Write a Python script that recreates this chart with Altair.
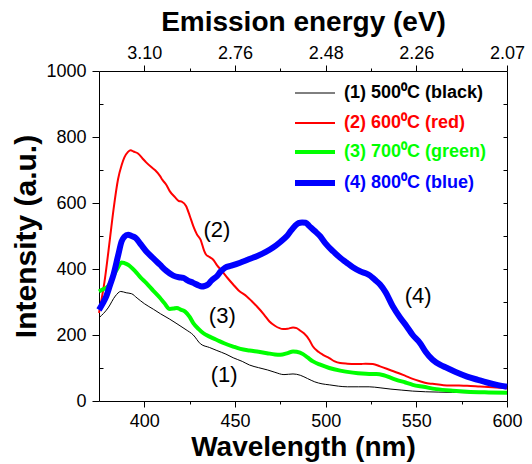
import altair as alt
import pandas as pd

# ---------------- data ----------------
names = ["(1) 500⁰C (black)", "(2) 600⁰C (red)", "(3) 700⁰C (green)", "(4) 800⁰C (blue)"]
colors = ["#000000", "#ff0000", "#00ff00", "#0000ff"]
widths = [1, 2, 4, 6]

wl_black = [375, 380, 384, 387, 390, 393, 396, 400, 405, 409, 414, 418, 423, 427, 431, 436, 440, 445, 449, 454,
            458, 463, 468, 472, 477, 482, 486, 490, 494, 498, 502, 507, 512, 518, 524, 530, 536, 542, 548, 555,
            562, 570, 580, 590, 600]
i_black = [252, 282, 318, 332, 328, 325, 312, 295, 278, 264, 248, 234, 216, 200, 173, 162, 153, 142, 131, 120,
           109, 101, 94, 87, 80, 82, 78, 68, 58, 52, 49, 45, 43, 43, 43, 40, 36, 33, 30, 28,
           27, 26, 25, 24, 24]

wl_red = [375, 378, 381, 383, 385.5, 387.5, 389, 391, 392.5, 394, 396.5, 399, 401, 404, 406, 408.6, 410, 412, 414,
          417, 419, 420.6, 423, 425, 427, 429, 431, 433, 434, 436, 438, 440, 443, 446, 449, 452, 456.5, 459, 462,
          466, 469, 472, 476.5, 479, 482, 484, 486, 488, 491, 493, 496, 498.5, 502, 505, 508, 512, 516, 519, 522,
          526, 530, 535.5, 540, 544, 548, 552, 556, 559, 565, 572, 578, 585, 592, 600]
i_red = [267, 360, 490, 580, 672, 715, 738, 755, 760, 756, 750, 735, 723, 708, 699, 682, 670, 656, 636,
         617, 606, 604, 591, 562, 530, 505, 489, 455, 444, 436, 428, 412, 393, 372, 353, 335, 317, 304, 287,
         262, 241, 228, 218, 219, 223, 221, 213, 205, 185, 165, 149, 140, 130, 120, 115, 113, 112, 112, 113,
         112, 105, 94, 85, 76, 67, 60, 54, 52, 48, 47, 46, 44, 42, 39]

wl_green = [375, 377, 379, 381, 383, 385.5, 387.5, 389, 391, 395, 398, 401, 405, 408.6, 411, 414, 416, 418, 420,
            422.5, 425, 427, 430, 432.4, 436, 440, 444, 449, 453, 458, 463, 467.6, 472, 475, 479, 482, 484, 487.5,
            490, 493, 497, 502, 508, 515, 520, 524, 528, 532, 536, 539, 544, 548, 554, 561, 570, 578, 590, 600]
i_green = [332, 338, 343, 355, 380, 405, 420, 418, 413, 393, 374, 358, 334, 313, 297, 279, 280, 282, 277,
           271, 255, 236, 218, 206, 195, 185, 175, 165, 158, 153, 149, 145, 141, 140, 145, 150, 149, 142,
           132, 120, 110, 100, 92, 86, 83, 82, 82, 78, 70, 64, 56, 49, 43, 36, 31, 28, 26, 25]

wl_blue = [375, 377, 379, 381, 383, 385.5, 387.5, 389, 391, 393, 395, 398, 401, 405, 408.6, 412, 416, 419, 421.5,
           424, 427, 430, 431.6, 433.5, 435, 437, 440, 442, 444.5, 448, 452.8, 457, 462, 467, 471, 475, 478.5,
           481, 483, 485, 487, 489, 491, 494, 497, 500, 504, 508, 511.6, 515, 519, 522, 524.5, 527, 530, 533,
           537, 541, 544.7, 548, 552, 555, 559, 563, 567, 572, 578, 584, 589, 595, 600]
i_blue = [276, 295, 317, 350, 383, 440, 484, 498, 504, 500, 495, 475, 454, 432, 413, 395, 380, 375, 373,
          365, 358, 350, 347, 349, 353, 365, 378, 392, 404, 410, 419, 428, 439, 452, 465, 482, 499,
          517, 530, 539, 541, 540, 530, 515, 499, 477, 454, 434, 419, 405, 393, 387, 380, 368, 353, 330,
          287, 253, 226, 200, 176, 150, 125, 110, 100, 87, 74, 64, 56, 48, 43]

series_wl = [wl_black, wl_red, wl_green, wl_blue]
series_i = [i_black, i_red, i_green, i_blue]

ann_text = ["(1)", "(2)", "(3)", "(4)"]
ann_wl = [444, 440, 443, 551]
ann_i = [79, 518, 258, 318]

x_major = [400, 450, 500, 550, 600]
x_minor = [425, 475, 525, 575]
energy_labels = ["3.10", "2.76", "2.48", "2.26", "2.07"]
y_major = [0, 200, 400, 600, 800, 1000]
y_minor = [100, 300, 500, 700, 900]
y_right = [100, 200, 300, 400, 500, 600, 700, 800, 900]

# ---------------- chart ----------------
W, H = 408, 330
FONT = "Liberation Sans"
xdom = [375, 600]
ydom = [0, 1000]


def xs():
    return alt.Scale(domain=xdom, nice=False, zero=False)


def ys():
    return alt.Scale(domain=ydom, nice=False, zero=False)


frames = []
for n, w, v in zip(names, series_wl, series_i):
    frames.append(pd.DataFrame({"wl": w, "I": v, "series": n}))
df = pd.concat(frames, ignore_index=True)

layers = []
for n, c, sw in zip(names, colors, widths):
    layers.append(
        alt.Chart(df[df.series == n]).mark_line(color=c, strokeWidth=sw, interpolate="monotone").encode(
            x=alt.X("wl:Q", scale=xs(), axis=None),
            y=alt.Y("I:Q", scale=ys(), axis=None),
        )
    )

ann_df = pd.DataFrame({"wl": ann_wl, "I": ann_i, "t": ann_text})
layers.append(
    alt.Chart(ann_df).mark_text(font=FONT, fontSize=22, color="black", align="center", baseline="middle").encode(
        x=alt.X("wl:Q", scale=xs(), axis=None),
        y=alt.Y("I:Q", scale=ys(), axis=None),
        text="t:N",
    )
)

# legend
leg_y = [22, 52, 81, 112]
for n, c, sw, yy in zip(names, colors, widths, leg_y):
    ldf = pd.DataFrame({"t": [n]})
    layers.append(
        alt.Chart(ldf).mark_rule(color=c, strokeWidth=sw).encode(
            x=alt.value(196), x2=alt.value(236), y=alt.value(yy)
        )
    )
    layers.append(
        alt.Chart(ldf).mark_text(font=FONT, fontSize=18, fontWeight="bold", color=c, align="left",
                                 baseline="middle").encode(
            x=alt.value(245), y=alt.value(yy), text="t:N"
        )
    )

# axis layers
expr = "''"
for v, lab in reversed(list(zip(x_major, energy_labels))):
    expr = f"datum.value == {v} ? '{lab}' : ({expr})"

adf = df[df.series == names[0]]

ax_bottom = alt.Chart(adf).mark_point(opacity=0).encode(
    x=alt.X("wl:Q", scale=xs(), axis=alt.Axis(orient="bottom", values=x_major, tickSize=6, labelPadding=5,
                                               format="d",
                                               title="Wavelength (nm)", titleY=54, titleBaseline="alphabetic",
                                               titleX=W / 2, titleAlign="center")),
    y=alt.Y("I:Q", scale=ys(), axis=alt.Axis(orient="left", values=y_major, tickSize=7, labelPadding=6,
                                             format="d",
                                             title="Intensity (a.u.)", titleX=-64, titleY=H / 2,
                                             titleAngle=-90, titleBaseline="alphabetic", titleAlign="center",
                                             titleFontSize=30)),
)
ax_minor = alt.Chart(adf).mark_point(opacity=0).encode(
    x=alt.X("wl:Q", scale=xs(), axis=alt.Axis(orient="bottom", values=x_minor, tickSize=3, labels=False,
                                               title=None)),
    y=alt.Y("I:Q", scale=ys(), axis=alt.Axis(orient="right", offset=-W, values=y_minor, tickSize=4,
                                             labels=False, title=None)),
)
ax_top = alt.Chart(adf).mark_point(opacity=0).encode(
    x=alt.X("wl:Q", scale=xs(), axis=alt.Axis(orient="top", values=x_major, tickSize=6, labelPadding=3,
                                               labelExpr=expr, title="Emission energy (eV)", titleY=-41,
                                               titleBaseline="alphabetic", titleX=W / 2, titleAlign="center")),
    y=alt.Y("I:Q", scale=ys(), axis=alt.Axis(orient="left", offset=-W, values=y_right, tickSize=4,
                                             labels=False, title=None)),
)
ax_top_minor = alt.Chart(adf).mark_point(opacity=0).encode(
    x=alt.X("wl:Q", scale=xs(), axis=alt.Axis(orient="top", values=x_minor, tickSize=3, labels=False,
                                               title=None)),
    y=alt.Y("I:Q", scale=ys(), axis=None),
)

chart = alt.layer(ax_bottom, ax_minor, ax_top, ax_top_minor, *layers).resolve_scale(
    x="independent", y="independent"
).properties(
    width=W, height=H,
    autosize=alt.AutoSizeParams(type="none"),
    padding={"left": 99, "top": 71, "right": 25, "bottom": 63},
    background="white",
).configure_view(
    stroke="black", strokeWidth=1
).configure_axis(
    domain=False, grid=False, labelFont=FONT, labelFontSize=18, labelColor="black", tickColor="black",
    tickWidth=1, titleFont=FONT, titleFontSize=28, titleFontWeight="bold", titleColor="black",
    labelFlush=False, labelOverlap=False,
)

chart.save("out.html", embed_options={"renderer": "svg", "actions": False})
